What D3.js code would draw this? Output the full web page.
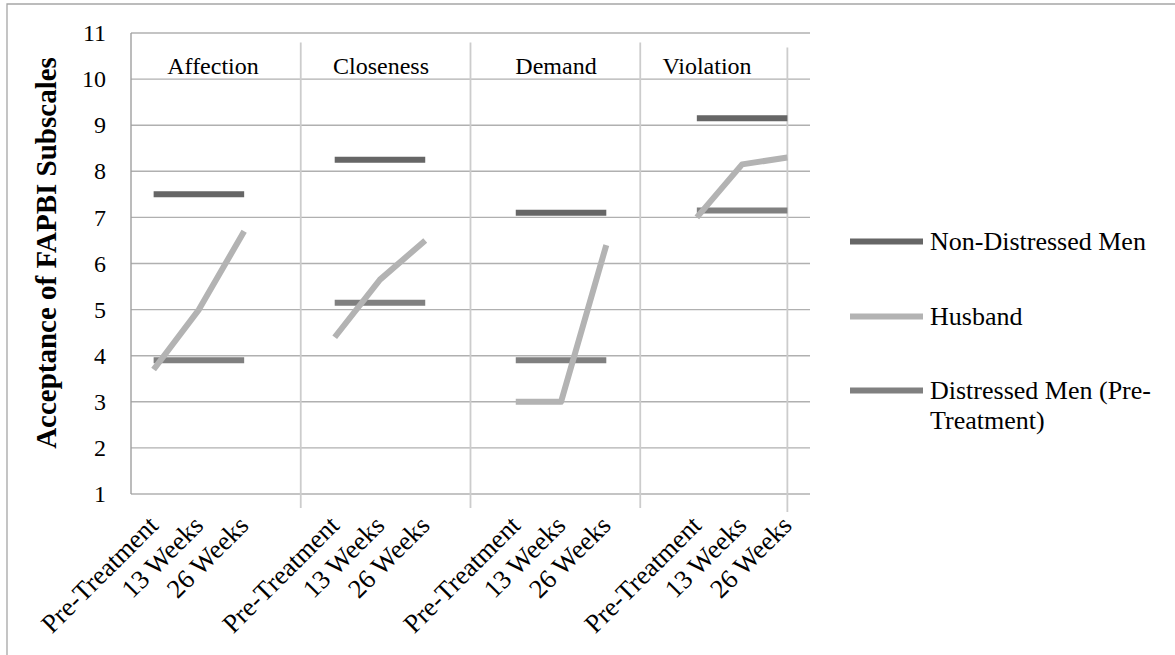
<!DOCTYPE html>
<html>
<head>
<meta charset="utf-8">
<script src="https://cdn.jsdelivr.net/npm/d3@7"></script>
<style>
  html, body { margin: 0; padding: 0; background: #fff; }
  svg { display: block; }
</style>
</head>
<body>
<svg id="chart" width="1175" height="655"></svg>
<script>
// Subscales (groups) and time points within each group
const subscales = ["Affection", "Closeness", "Demand", "Violation"];
const timePoints = ["Pre-Treatment", "13 Weeks", "26 Weeks"];
// Category axis: three time points per subscale, a blank slot between groups
const categories = [
  "Pre-Treatment", "13 Weeks", "26 Weeks", "",
  "Pre-Treatment", "13 Weeks", "26 Weeks", "",
  "Pre-Treatment", "13 Weeks", "26 Weeks", "",
  "Pre-Treatment", "13 Weeks", "26 Weeks"
];
const yTicks = [1, 2, 3, 4, 5, 6, 7, 8, 9, 10, 11];

// Series values (null = gap between subscale groups)
const nonDistressedMen = [7.5, 7.5, 7.5, null, 8.25, 8.25, 8.25, null, 7.1, 7.1, 7.1, null, 9.15, 9.15, 9.15];
const husband          = [3.7, 5.0, 6.7, null, 4.4, 5.65, 6.5, null, 3.0, 3.0, 6.4, null, 7.0, 8.15, 8.3];
const distressedMen    = [3.9, 3.9, 3.9, null, 5.15, 5.15, 5.15, null, 3.9, 3.9, 3.9, null, 7.15, 7.15, 7.15];

const seriesNames = ["Non-Distressed Men", "Husband", "Distressed Men (Pre-Treatment)"];

// ---- layout ----
const plot = { left: 131, right: 810, top: 33, bottom: 494 };
const groupLabelX = [213, 381, 556, 707];
const colors = { nd: "#666666", hus: "#b3b3b3", dis: "#808080" };
const FONT = '"Liberation Serif", Tinos, "Times New Roman", Times, serif';

const svg = d3.select("#chart");

// outer chart frame (top and left edges visible)
svg.append("path")
  .attr("d", "M7,655 V4 H1175")
  .attr("fill", "none")
  .attr("stroke", "#a6a6a6")
  .attr("stroke-width", 1.3);

const x = d3.scaleBand()
  .domain(d3.range(categories.length))
  .range([plot.left, plot.right])
  .padding(0);
const cx = i => x(i) + x.bandwidth() / 2;

const y = d3.scaleLinear().domain([1, 11]).range([plot.bottom, plot.top]);

// horizontal gridlines
svg.append("g")
  .selectAll("line")
  .data(yTicks)
  .join("line")
  .attr("x1", plot.left)
  .attr("x2", plot.right)
  .attr("y1", d => y(d))
  .attr("y2", d => y(d))
  .attr("stroke", "#b0b0b0")
  .attr("stroke-width", 1.4);

// vertical separators between subscale groups
const groupScale = d3.scaleLinear().domain([0, subscales.length]).range([plot.left, plot.right]);
const sepG = svg.append("g").attr("stroke", "#cccccc").attr("stroke-width", 1.8);
sepG.selectAll("line.sep")
  .data([1, 2, 3])
  .join("line")
  .attr("class", "sep")
  .attr("x1", d => groupScale(d))
  .attr("x2", d => groupScale(d))
  .attr("y1", 42.5)
  .attr("y2", 508);
sepG.append("line")
  .attr("x1", cx(categories.length - 1))
  .attr("x2", cx(categories.length - 1))
  .attr("y1", 47.5)
  .attr("y2", 512);

// left axis line
svg.append("line")
  .attr("x1", plot.left).attr("x2", plot.left)
  .attr("y1", plot.top).attr("y2", plot.bottom)
  .attr("stroke", "#a0a0a0")
  .attr("stroke-width", 1.4);

// y axis labels
const yAxis = d3.axisLeft(y).tickValues(yTicks).tickSize(0).tickPadding(25).tickFormat(d3.format("d"));
const yG = svg.append("g").attr("transform", `translate(${plot.left},0)`).call(yAxis);
yG.select(".domain").remove();
yG.selectAll("text")
  .style("font-family", FONT)
  .style("font-size", "24px")
  .attr("fill", "#000");

// y axis title
svg.append("text")
  .attr("transform", "translate(56,253) rotate(-90)")
  .attr("text-anchor", "middle")
  .style("font-family", FONT)
  .style("font-size", "29px")
  .style("font-weight", "bold")
  .text("Acceptance of FAPBI Subscales");

// x axis labels (rotated)
const xAxis = d3.axisBottom(x).tickSize(0).tickFormat(i => categories[i]);
const xG = svg.append("g").attr("transform", `translate(0,${plot.bottom})`).call(xAxis);
xG.select(".domain").remove();
xG.selectAll("text")
  .style("font-family", FONT)
  .style("font-size", "26.5px")
  .attr("fill", "#000")
  .attr("x", 0).attr("y", 0).attr("dy", 0)
  .attr("text-anchor", "end")
  .attr("transform", "translate(6,33) rotate(-45)");

// subscale labels inside the plot
svg.append("g")
  .selectAll("text")
  .data(subscales)
  .join("text")
  .attr("x", (d, i) => groupLabelX[i])
  .attr("y", 74)
  .attr("text-anchor", "middle")
  .style("font-family", FONT)
  .style("font-size", "24px")
  .text(d => d);

// series lines
const line = d3.line()
  .defined(d => d != null)
  .x((d, i) => cx(i))
  .y(d => y(d));

const series = [
  { values: distressedMen, color: colors.dis },
  { values: nonDistressedMen, color: colors.nd },
  { values: husband, color: colors.hus }
];
svg.append("g")
  .selectAll("path")
  .data(series)
  .join("path")
  .attr("d", s => line(s.values))
  .attr("fill", "none")
  .attr("stroke", s => s.color)
  .attr("stroke-width", 6)
  .attr("stroke-linejoin", "round")
  .attr("stroke-linecap", "butt");

// legend
const legendItems = [
  { lines: ["Non-Distressed Men"], color: colors.nd, y: 241.5 },
  { lines: ["Husband"], color: colors.hus, y: 316.5 },
  { lines: ["Distressed Men (Pre-", "Treatment)"], color: colors.dis, y: 390.5 }
];
const lg = svg.append("g");
const li = lg.selectAll("g").data(legendItems).join("g");
li.append("line")
  .attr("x1", 850).attr("x2", 923)
  .attr("y1", d => d.y).attr("y2", d => d.y)
  .attr("stroke", d => d.color)
  .attr("stroke-width", 6);
li.append("text")
  .attr("x", 930)
  .attr("y", d => d.y + 8.5)
  .style("font-family", FONT)
  .style("font-size", "26px")
  .selectAll("tspan")
  .data(d => d.lines)
  .join("tspan")
  .attr("x", 930)
  .attr("dy", (d, i) => i === 0 ? 0 : 30)
  .text(d => d);
</script>
</body>
</html>
